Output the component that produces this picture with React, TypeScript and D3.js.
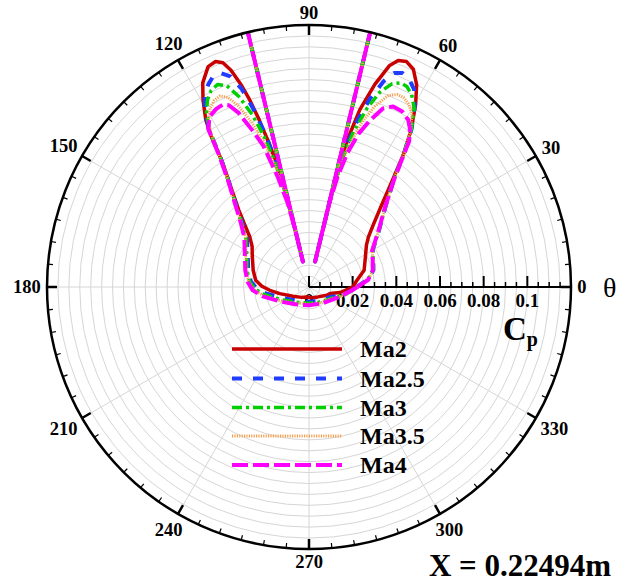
import React from 'react';
import * as d3 from 'd3';

// Canvas and polar frame
const W = 626;
const H = 582;
const CX = 309;
const CY = 287;
const R = 262;
const CP_MAX = 0.12;

// Series labels
const seriesNames = ['Ma2', 'Ma2.5', 'Ma3', 'Ma3.5', 'Ma4'];

// Pressure coefficient vs circumferential angle [theta (deg), Cp]
const ma2: [number, number][] = [
  [0, 0.02], [8, 0.0222], [17, 0.0264], [29, 0.0296], [36, 0.0325], [40, 0.0355],
  [44, 0.0409], [48, 0.049], [52, 0.062], [54.5, 0.0744], [57, 0.086], [59.7, 0.0968],
  [62, 0.105], [64.4, 0.1106], [66.6, 0.1125], [68.5, 0.1115], [70, 0.108], [72, 0.0976],
  [74, 0.0845], [75.4, 0.0697], [76.2, 0.05], [76.4, 0.03], [76.5, 0.012], [76.5, 0.4],
  [103.5, 0.4], [103.5, 0.012], [103.6, 0.03], [103.9, 0.05], [104.8, 0.06], [105.6, 0.069],
  [106.6, 0.08], [107.6, 0.09], [108.6, 0.098], [109.8, 0.1055], [111, 0.11], [112.5, 0.1118],
  [114.6, 0.111], [117.5, 0.1054], [119.5, 0.0986], [121.7, 0.09], [123, 0.0822], [124.8, 0.0693],
  [128, 0.0582], [132.4, 0.0477], [136.5, 0.04], [139.7, 0.0356], [144.5, 0.032], [150.7, 0.0298],
  [163.3, 0.0267], [172.8, 0.0246], [179.1, 0.0216], [184.8, 0.018], [192.8, 0.0137], [210, 0.0085],
  [235, 0.0058], [257, 0.0047], [290, 0.0052], [312, 0.0061], [335, 0.009], [342.6, 0.0101],
  [350, 0.0145],
];

const ma25: [number, number][] = [
  [0, 0.0218], [7, 0.027], [14.6, 0.0305], [22, 0.0318], [30, 0.0337], [38.4, 0.0407],
  [46.4, 0.0508], [52, 0.0635], [54.5, 0.075], [57, 0.0862], [59.7, 0.096], [62, 0.1025],
  [64.5, 0.106], [66.4, 0.107], [68.3, 0.1055], [70, 0.1005], [72, 0.091], [74, 0.078],
  [75.5, 0.063], [76.3, 0.045], [76.4, 0.028], [76.5, 0.012], [76.5, 0.4],
  [103.5, 0.4], [103.5, 0.012], [103.6, 0.028], [103.9, 0.045], [104.8, 0.06], [106, 0.073],
  [107.3, 0.085], [108.8, 0.096], [110.5, 0.103], [112.6, 0.1063], [114.5, 0.106], [116.5, 0.1035],
  [118.5, 0.1], [120.5, 0.094], [122.5, 0.085], [124.3, 0.072], [127.5, 0.06], [132, 0.0495],
  [136.5, 0.042], [141.3, 0.0365], [152.5, 0.0316], [164.6, 0.0289], [174.4, 0.0268], [182, 0.0239],
  [188.3, 0.02], [199.6, 0.0142], [223.5, 0.0089], [250, 0.0072], [270, 0.0068], [300, 0.0075],
  [320, 0.0088], [334.5, 0.0107], [345, 0.015], [355, 0.0195],
];

const ma3: [number, number][] = [
  [0, 0.022], [7, 0.0271], [14.6, 0.0304], [22, 0.0317], [30, 0.0336], [38.4, 0.0405],
  [46.4, 0.0508], [52, 0.0635], [54.5, 0.075], [57, 0.086], [59.5, 0.095], [62, 0.1],
  [64, 0.1022], [65.8, 0.1025], [67.8, 0.1005], [70, 0.095], [72, 0.086], [74, 0.074],
  [75.5, 0.06], [76.3, 0.044], [76.4, 0.028], [76.5, 0.012], [76.5, 0.4],
  [103.5, 0.4], [103.5, 0.012], [103.6, 0.028], [104, 0.044], [105.2, 0.059], [106.6, 0.072],
  [108.2, 0.083], [110.2, 0.093], [112.2, 0.0995], [114.3, 0.1018], [116.5, 0.1005], [118.5, 0.0975],
  [120.5, 0.0925], [122.5, 0.0845], [124.3, 0.0722], [127.5, 0.0602], [132, 0.0498], [136.5, 0.0425],
  [141.8, 0.0368], [153, 0.032], [165, 0.0294], [175, 0.0273], [182.5, 0.0246], [190, 0.0205],
  [203, 0.0145], [227, 0.0094], [250, 0.0077], [270, 0.0074], [300, 0.0082], [320, 0.0095],
  [337, 0.0125], [347, 0.0165], [355.5, 0.0198],
];

const ma35: [number, number][] = [
  [0, 0.0221], [7, 0.0272], [14.6, 0.0303], [22, 0.0316], [30, 0.0335], [38.4, 0.0404],
  [46.4, 0.0507], [52, 0.0635], [54.5, 0.075], [57, 0.0855], [59.3, 0.0925], [61.5, 0.0955],
  [63.5, 0.097], [65.3, 0.097], [67.5, 0.095], [70, 0.088], [72, 0.08], [74, 0.069],
  [75.5, 0.057], [76.3, 0.042], [76.4, 0.028], [76.5, 0.012], [76.5, 0.4],
  [103.5, 0.4], [103.5, 0.012], [103.6, 0.028], [104.1, 0.042], [105.5, 0.057], [107.2, 0.069],
  [109.2, 0.08], [111.3, 0.089], [113.2, 0.0945], [115, 0.0965], [117, 0.0958], [119, 0.0935],
  [121, 0.0895], [122.7, 0.083], [124.4, 0.0722], [127.5, 0.0603], [132, 0.05], [136.5, 0.0428],
  [142, 0.037], [153.3, 0.0324], [165.2, 0.0298], [175.3, 0.0277], [183, 0.0252], [191, 0.021],
  [205, 0.0147], [229, 0.0098], [250, 0.008], [270, 0.0079], [305, 0.009], [322, 0.0098],
  [339, 0.0135], [348, 0.0172], [355.6, 0.0199],
];

const ma4: [number, number][] = [
  [0, 0.0222], [7, 0.0273], [14.6, 0.0302], [22, 0.0315], [30, 0.0334], [38.4, 0.0403],
  [46.4, 0.0506], [52, 0.064], [55.5, 0.081], [57.5, 0.086], [59.3, 0.089], [62, 0.091],
  [65, 0.0912], [67.5, 0.0885], [70, 0.081], [72, 0.074], [74, 0.064], [75.5, 0.052],
  [76.3, 0.04], [76.4, 0.027], [76.5, 0.012], [76.5, 0.4],
  [103.5, 0.4], [103.5, 0.012], [103.6, 0.027], [104.3, 0.04], [105.8, 0.052], [107.9, 0.068],
  [109.8, 0.076], [112, 0.086], [113.8, 0.091], [115.3, 0.0924], [117.5, 0.092], [120.2, 0.0904],
  [122.5, 0.086], [124.4, 0.0725], [127.5, 0.0605], [132, 0.0503], [136.5, 0.0432], [142.4, 0.0374],
  [153.6, 0.0328], [165.3, 0.0302], [175.6, 0.0281], [183.4, 0.0258], [191.4, 0.0216], [206.2, 0.0149],
  [231, 0.0102], [270, 0.0084], [308.6, 0.0096], [340.4, 0.0142], [355.6, 0.0198],
];

const seriesData = [ma2, ma25, ma3, ma35, ma4];

// Axis ticks
const angleTicks = [0, 30, 60, 90, 120, 150, 180, 210, 240, 270, 300, 330];
const cpTicks = [0, 0.02, 0.04, 0.06, 0.08, 0.1];
const cpTickLabels = ['0', '0.02', '0.04', '0.06', '0.08', '0.1'];

const seriesStyles = [
  { color: '#c80000', dash: undefined as string | undefined, width: 3.5 },
  { color: '#1f3cff', dash: '10,11', width: 4 },
  { color: '#00d000', dash: '10,4,3,4', width: 3.5 },
  { color: '#f5a050', dash: '1.2,1.2', width: 3 },
  { color: '#ff00ff', dash: '16,5', width: 4 },
];

const SERIF = "'Liberation Serif', 'Times New Roman', serif";

export default function App() {
  const rScale = d3.scaleLinear().domain([0, CP_MAX]).range([0, R]);
  const lineGen = d3
    .lineRadial<[number, number]>()
    .angle((d) => ((90 - d[0]) * Math.PI) / 180)
    .radius((d) => rScale(d[1]))
    .curve(d3.curveLinearClosed);

  const pol = (deg: number, r: number) => {
    const a = (deg * Math.PI) / 180;
    return [CX + r * Math.cos(a), CY - r * Math.sin(a)];
  };

  const gridRadii = d3.range(0.005, CP_MAX - 0.001, 0.005);
  const gridSpokes = d3.range(0, 360, 30);
  const minorAngles = d3.range(0, 360, 5).filter((a) => a % 30 !== 0);
  const cpMinor = d3
    .range(0, CP_MAX + 0.0001, 0.005)
    .filter((v) => Math.abs(v / 0.02 - Math.round(v / 0.02)) > 1e-6);

  const legendY = [349, 378.5, 407.5, 436, 465];

  return (
    <svg
      width={W}
      height={H}
      style={{ position: 'absolute', left: 0, top: 0, background: '#fff' }}
      fontFamily={SERIF}
    >
      <defs>
        <clipPath id="plotClip">
          <circle cx={0} cy={0} r={R} />
        </clipPath>
      </defs>
      <rect width={W} height={H} fill="#fff" />

      {/* grid */}
      <g fill="none" stroke="#d6d6d6" strokeWidth={1}>
        {gridRadii.map((v) => (
          <circle key={v} cx={CX} cy={CY} r={rScale(v)} />
        ))}
        {gridSpokes.map((a) => {
          const [x, y] = pol(a, R);
          return <line key={a} x1={CX} y1={CY} x2={x} y2={y} />;
        })}
      </g>

      {/* radial Cp axis */}
      <g stroke="#000">
        <line x1={CX} y1={CY} x2={CX + R} y2={CY} strokeWidth={2} />
        {cpTicks.map((v) => (
          <line key={v} x1={CX + rScale(v)} y1={CY} x2={CX + rScale(v)} y2={CY - 11} strokeWidth={2} />
        ))}
        {cpMinor.map((v) => (
          <line key={v} x1={CX + rScale(v)} y1={CY} x2={CX + rScale(v)} y2={CY - 5} strokeWidth={1.5} />
        ))}
      </g>
      <g fontSize={19} fontWeight="bold" textAnchor="middle" fill="#000">
        {cpTicks.map((v, i) => (
          <text key={v} x={CX + rScale(v)} y={CY + 20}>
            {cpTickLabels[i]}
          </text>
        ))}
      </g>

      {/* data curves */}
      <g transform={`translate(${CX},${CY})`}>
        <g clipPath="url(#plotClip)" fill="none" strokeLinejoin="round">
          {seriesData.map((d, i) => (
            <path
              key={seriesNames[i]}
              d={lineGen(d) || ''}
              stroke={seriesStyles[i].color}
              strokeWidth={seriesStyles[i].width}
              strokeDasharray={seriesStyles[i].dash}
              strokeLinecap={seriesStyles[i].dash ? 'butt' : 'round'}
            />
          ))}
        </g>
      </g>

      {/* outer frame and angular ticks */}
      <circle cx={CX} cy={CY} r={R} fill="none" stroke="#000" strokeWidth={2.5} />
      <g stroke="#000">
        {angleTicks.map((a) => {
          const [x1, y1] = pol(a, R);
          const [x2, y2] = pol(a, R - 10);
          return <line key={a} x1={x1} y1={y1} x2={x2} y2={y2} strokeWidth={2.5} />;
        })}
        {minorAngles.map((a) => {
          const [x1, y1] = pol(a, R);
          const [x2, y2] = pol(a, R - 5);
          return <line key={a} x1={x1} y1={y1} x2={x2} y2={y2} strokeWidth={1.2} />;
        })}
      </g>
      <g fontSize={18.5} fontWeight="bold" textAnchor="middle" fill="#000">
        {angleTicks.map((a) => {
          const label = String(a);
          const w = label.length * 9.5;
          const h = 12.5;
          const rad = (a * Math.PI) / 180;
          const rl = R + 6 + 0.5 * w * Math.abs(Math.cos(rad)) + 0.5 * h * Math.abs(Math.sin(rad));
          const [x, y] = pol(a, rl);
          return (
            <text key={a} x={x} y={y + 6.3}>
              {label}
            </text>
          );
        })}
      </g>

      {/* axis titles */}
      <text x={603} y={297} fontSize={28} fill="#000">
        θ
      </text>
      <text x={503} y={340} fontSize={33} fontWeight="bold" fill="#000">
        C
        <tspan fontSize={20} dy={6}>
          p
        </tspan>
      </text>

      {/* legend */}
      <g>
        {seriesNames.map((name, i) => (
          <g key={name}>
            <line
              x1={232}
              x2={342}
              y1={legendY[i]}
              y2={legendY[i]}
              stroke={seriesStyles[i].color}
              strokeWidth={seriesStyles[i].width}
              strokeDasharray={seriesStyles[i].dash}
            />
            <text x={360} y={legendY[i] + 8} fontSize={24} fontWeight="bold" fill="#000">
              {name}
            </text>
          </g>
        ))}
      </g>

      <text x={611} y={576} fontSize={31} fontWeight="bold" textAnchor="end" fill="#000">
        X = 0.22494m
      </text>
    </svg>
  );
}
